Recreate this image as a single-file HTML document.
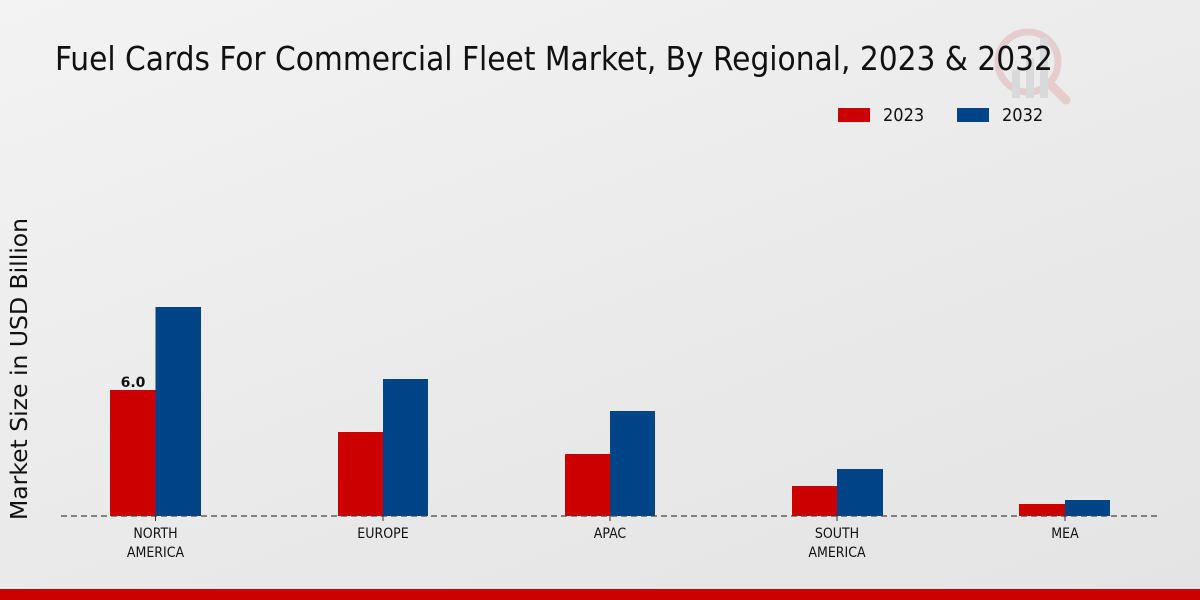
<!DOCTYPE html>
<html><head><meta charset="utf-8"><style>
html,body{margin:0;padding:0}
body{width:1200px;height:600px;overflow:hidden;background:linear-gradient(160deg,#f3f3f3 0%,#e9e9e9 60%,#e4e4e4 100%);font-family:"DejaVu Sans","Liberation Sans",sans-serif}
</style></head><body>
<svg width="1200" height="600" xmlns="http://www.w3.org/2000/svg" style="position:absolute;left:0;top:0">
<g opacity="0.45">
<circle cx="1028" cy="62" r="30" fill="none" stroke="#e0a8a8" stroke-width="7"/>
<line x1="1050" y1="84" x2="1066" y2="100" stroke="#e0a8a8" stroke-width="9" stroke-linecap="round"/>
<rect x="1012" y="70" width="8" height="28" fill="#c0c4c8"/><rect x="1026" y="58" width="8" height="40" fill="#c0c4c8"/><rect x="1040" y="38" width="8" height="60" fill="#c0c4c8"/>
</g>
<text x="55" y="70" font-size="33" font-stretch="condensed" fill="#111" style="font-family:'DejaVu Sans Condensed','DejaVu Sans',sans-serif">Fuel Cards For Commercial Fleet Market, By Regional, 2023 &amp; 2032</text>
<rect x="838" y="108" width="32" height="14" fill="#cc0000"/>
<text x="883" y="121" font-size="18" fill="#111" style="font-family:'DejaVu Sans Condensed','DejaVu Sans',sans-serif">2023</text>
<rect x="957" y="108" width="32" height="14" fill="#004488"/>
<text x="1002" y="121" font-size="18" fill="#111" style="font-family:'DejaVu Sans Condensed','DejaVu Sans',sans-serif">2032</text>
<text transform="translate(27,369) rotate(-90)" text-anchor="middle" font-size="23.5" fill="#111">Market Size in USD Billion</text>
<g fill="#cc0000">
<rect x="110" y="390" width="45.5" height="126"/><rect x="338" y="432" width="45" height="84"/><rect x="565" y="454" width="45" height="62"/><rect x="792" y="486" width="45" height="30"/><rect x="1019" y="504" width="46" height="12"/>
</g>
<g fill="#004488">
<rect x="155.5" y="307" width="45.5" height="209"/><rect x="383" y="379" width="45" height="137"/><rect x="610" y="411" width="45" height="105"/><rect x="837" y="469" width="46" height="47"/><rect x="1065" y="500" width="45" height="16"/>
</g>
<line x1="61" y1="516" x2="1160" y2="516" stroke="#444" stroke-width="1.2" stroke-dasharray="6,4"/>
<g stroke="#333"><line x1="155.5" y1="516" x2="155.5" y2="521"/><line x1="383" y1="516" x2="383" y2="521"/><line x1="610" y1="516" x2="610" y2="521"/><line x1="837" y1="516" x2="837" y2="521"/><line x1="1065" y1="516" x2="1065" y2="521"/></g>
<text x="133" y="387" text-anchor="middle" font-size="14" font-weight="bold" fill="#111">6.0</text>
<g font-size="14" fill="#111" text-anchor="middle" style="font-family:'DejaVu Sans Condensed','DejaVu Sans',sans-serif">
<text x="155.5" y="538">NORTH</text><text x="155.5" y="557">AMERICA</text>
<text x="383" y="538">EUROPE</text>
<text x="610" y="538">APAC</text>
<text x="837" y="538">SOUTH</text><text x="837" y="557">AMERICA</text>
<text x="1065" y="538">MEA</text>
</g>
<rect x="0" y="589" width="1200" height="11" fill="#cc0000"/>
</svg>
</body></html>
